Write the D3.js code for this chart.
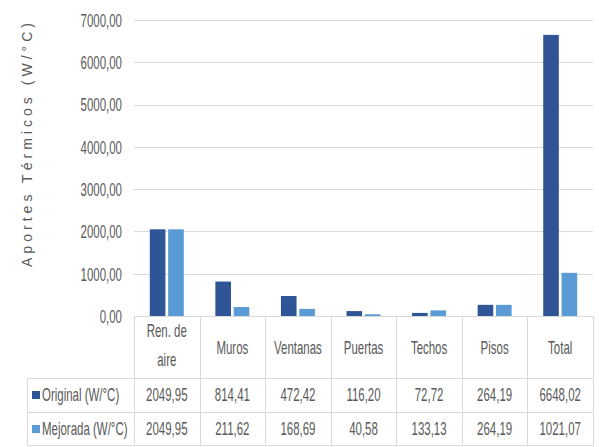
<!DOCTYPE html>
<html>
<head>
<meta charset="utf-8">
<script src="https://cdn.jsdelivr.net/npm/d3@7"></script>
<style>
  html, body { margin: 0; padding: 0; background: #fff; }
  svg { display: block; }
  text { font-family: "Liberation Sans", Arial, sans-serif; fill: #595959; }
</style>
</head>
<body>
<svg id="chart" width="599" height="447"></svg>
<script>
// Heat gains per building element (W/°C)
const categories = [["Ren. de", "aire"], ["Muros"], ["Ventanas"], ["Puertas"], ["Techos"], ["Pisos"], ["Total"]];
const seriesNames = ["Original (W/°C)", "Mejorada (W/°C)"];
const original = [2049.95, 814.41, 472.42, 116.20, 72.72, 264.19, 6648.02];
const mejorada = [2049.95, 211.62, 168.69, 40.58, 133.13, 264.19, 1021.07];
const yTicks = [0, 1000, 2000, 3000, 4000, 5000, 6000, 7000];
const yTitle = "Aportes Térmicos (W/°C)";

const colors = ["#2f5597", "#5b9bd5"];
const gridColor = "#d9d9d9";
// tall, narrow lettering
const sx = 0.82, sy = 1.25;

const svg = d3.select("#chart");
const fmt = v => v.toFixed(2).replace(".", ",");
const catKeys = categories.map(c => c.join(" "));

const plot = { left: 134, right: 593, top: 20, bottom: 316 };
const table = { left: 27, rowTop: 378, rowMid: 412, bottom: 445 };

const x = d3.scaleBand().domain(catKeys).range([plot.left, plot.right]).padding(0);
const x1 = d3.scaleBand().domain(seriesNames).range([0, 34]).paddingInner(0.15);
const y = d3.scaleLinear().domain([0, 7000]).range([plot.bottom, plot.top]);

// stretched text helper
function label(g, px, py, str, anchor, size) {
  return g.append("text")
    .attr("transform", `translate(${px},${py}) scale(${sx},${sy})`)
    .attr("text-anchor", anchor || "middle")
    .attr("dominant-baseline", "central")
    .style("font-size", (size || 14) + "px")
    .text(str);
}

// gridlines
svg.append("g").selectAll("line").data(yTicks).join("line")
  .attr("x1", plot.left).attr("x2", plot.right)
  .attr("y1", d => Math.round(y(d)) + 0.5).attr("y2", d => Math.round(y(d)) + 0.5)
  .attr("stroke", gridColor).attr("stroke-width", 1);

// y axis labels
const yl = svg.append("g");
yTicks.forEach(t => label(yl, 122, y(t) + 1, fmt(t), "end"));

// y axis title
svg.append("text")
  .attr("transform", `translate(27,${(plot.top + 270) / 2}) rotate(-90)`)
  .attr("text-anchor", "middle")
  .attr("dominant-baseline", "central")
  .attr("textLength", 244)
  .attr("lengthAdjust", "spacing")
  .style("font-size", "14px")
  .text(yTitle);

// bars
const series = [original, mejorada];
const groupOffset = (x.bandwidth() - 34) / 2;
series.forEach((vals, si) => {
  svg.append("g").selectAll("rect").data(vals).join("rect")
    .attr("x", (d, i) => x(catKeys[i]) + groupOffset + x1(seriesNames[si]))
    .attr("width", x1.bandwidth())
    .attr("y", d => y(d))
    .attr("height", d => y(0) - y(d))
    .attr("fill", colors[si]);
});

// data table lines
const lines = svg.append("g").attr("stroke", gridColor).attr("stroke-width", 1);
x.domain().forEach(k => {
  const xx = Math.round(x(k)) + 0.5;
  lines.append("line").attr("x1", xx).attr("x2", xx).attr("y1", plot.bottom).attr("y2", table.bottom);
});
lines.append("line").attr("x1", plot.right + 0.5).attr("x2", plot.right + 0.5).attr("y1", plot.bottom).attr("y2", table.bottom);
lines.append("line").attr("x1", table.left + 0.5).attr("x2", table.left + 0.5).attr("y1", table.rowTop).attr("y2", table.bottom);
[table.rowTop, table.rowMid, table.bottom].forEach(yy => {
  lines.append("line").attr("x1", table.left).attr("x2", plot.right + 1)
    .attr("y1", yy + 0.5).attr("y2", yy + 0.5);
});

// category labels
const cl = svg.append("g");
categories.forEach((c, i) => {
  const cx = x(catKeys[i]) + x.bandwidth() / 2;
  if (c.length === 2) {
    label(cl, cx, 331, c[0]);
    label(cl, cx, 360, c[1]);
  } else {
    label(cl, cx, 348, c[0]);
  }
});

// table rows: legend key, name and values
const rowY = [395, 429];
const tg = svg.append("g");
series.forEach((vals, si) => {
  tg.append("rect")
    .attr("x", 32).attr("y", rowY[si] - 4).attr("width", 8).attr("height", 8)
    .attr("fill", colors[si]);
  label(tg, 42, rowY[si], seriesNames[si], "start");
  vals.forEach((v, i) => label(tg, x(catKeys[i]) + x.bandwidth() / 2, rowY[si], fmt(v)));
});
</script>
</body>
</html>
